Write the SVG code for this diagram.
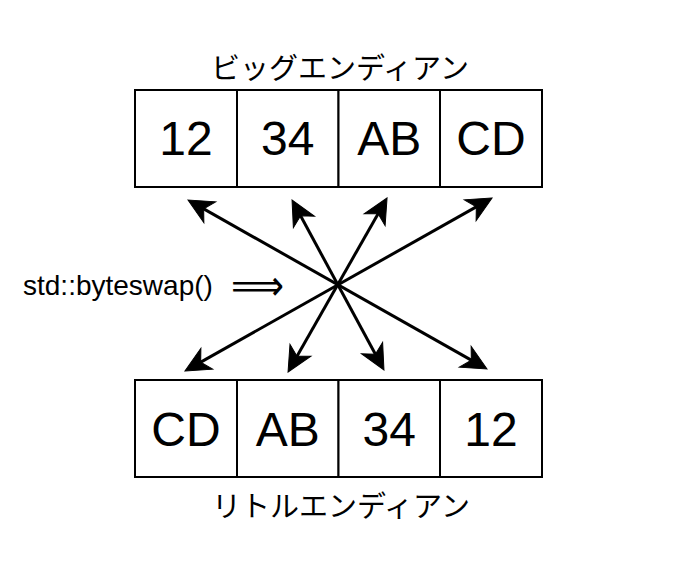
<svg xmlns="http://www.w3.org/2000/svg" width="674" height="580" viewBox="0 0 674 580">
<style>
.box{fill:#fff;stroke:#000;stroke-width:2}
.num{font-family:"Liberation Sans",Arial,sans-serif;font-size:48px;fill:#000;text-anchor:middle}
.jp{font-family:"Noto Sans CJK JP","Liberation Sans",sans-serif;font-size:29px;fill:#000;text-anchor:middle}
.lbl{font-family:"Liberation Sans","DejaVu Sans",sans-serif;font-size:28px;fill:#000}
.arr{font-family:"DejaVu Sans",sans-serif;font-size:42px;fill:#000}
.conn{stroke:#000;stroke-width:3;fill:none;marker-start:url(#ah);marker-end:url(#ah)}
</style>
<defs>
<marker id="ah" markerUnits="userSpaceOnUse" markerWidth="40" markerHeight="40" viewBox="-20 -20 40 40" refX="0" refY="0" orient="auto-start-reverse" overflow="visible">
<path d="M10,0 L-15,-12 L-8,0 L-15,12 Z" fill="#000" stroke="#000" stroke-width="1"/>
</marker>
</defs>
<rect width="674" height="580" fill="#fff"/>
<g id="big-endian-label"><text class="jp" x="340" y="79">ビッグエンディアン</text></g>
<g id="big-endian">
<g id="b0"><rect class="box" x="135" y="90" width="102" height="97"/><text class="num" x="186" y="155">12</text></g>
<g id="b1"><rect class="box" x="237" y="90" width="101.5" height="97"/><text class="num" x="287.75" y="155">34</text></g>
<g id="b2"><rect class="box" x="338.5" y="90" width="101.5" height="97"/><text class="num" x="389.25" y="155">AB</text></g>
<g id="b3"><rect class="box" x="440" y="90" width="102" height="97"/><text class="num" x="491" y="155">CD</text></g>
</g>
<g id="little-endian">
<g id="l0"><rect class="box" x="135" y="380" width="102" height="97"/><text class="num" x="186" y="446">CD</text></g>
<g id="l1"><rect class="box" x="237" y="380" width="101.5" height="97"/><text class="num" x="287.75" y="446">AB</text></g>
<g id="l2"><rect class="box" x="338.5" y="380" width="101.5" height="97"/><text class="num" x="389.25" y="446">34</text></g>
<g id="l3"><rect class="box" x="440" y="380" width="102" height="97"/><text class="num" x="491" y="446">12</text></g>
</g>
<g id="little-endian-label"><text class="jp" x="341" y="517">リトルエンディアン</text></g>
<g id="swap-label"><text class="lbl" x="23" y="295">std::byteswap()</text><text class="arr" x="231" y="300" textLength="53" lengthAdjust="spacingAndGlyphs">⟹</text></g>
<g id="connectors">
<line class="conn" x1="196.7" y1="204.9" x2="478.3" y2="364.1"/>
<line class="conn" x1="296.8" y1="208.8" x2="379.2" y2="361.2"/>
<line class="conn" x1="382.1" y1="206.7" x2="293.0" y2="363.3"/>
<line class="conn" x1="483.3" y1="202.9" x2="193.7" y2="366.1"/>
</g>
</svg>
